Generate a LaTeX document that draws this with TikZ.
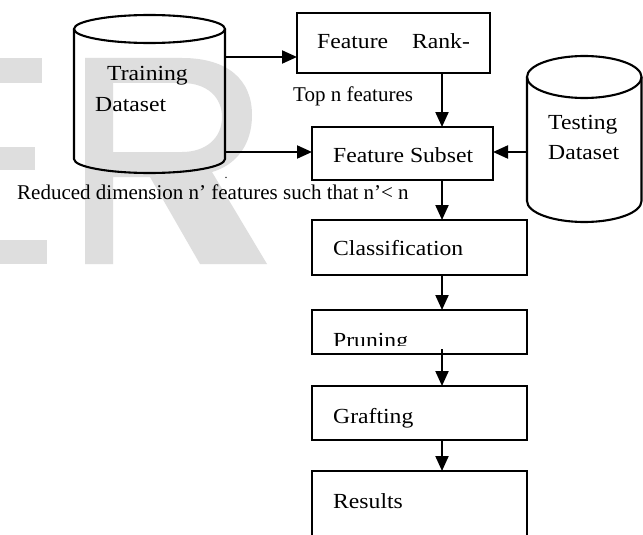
\documentclass[tikz,border=0pt]{standalone}
\usepackage{fontspec}
\setmainfont{Liberation Serif}
\newfontfamily\boxfont[FakeStretch=1.1]{Liberation Serif}
\usetikzlibrary{arrows.meta,calc}
\begin{document}
\begin{tikzpicture}[x=1pt,y=-1pt,
  wm/.style={fill=black!13,draw=none},
  stepbox/.style={draw,line width=2.1pt,inner sep=0pt,outer sep=0pt,anchor=north west},
  cyl/.style={draw,line width=2.1pt},
  arr/.style={line width=2.1pt,-{Triangle[length=15pt,width=13pt]}},
  lbl/.style={anchor=base west,inner sep=0pt,font=\boxfont\fontsize{21.5}{26}\selectfont},
  note/.style={anchor=base west,inner sep=0pt,font=\fontsize{21}{25}\selectfont}]
\useasboundingbox (0,0) rectangle (643,535);
\clip (0,0) rectangle (643,535);
\fill[white] (0,0) rectangle (643,535);
% watermark
\fill[wm] (0,58) rectangle (42,83);
\fill[wm] (0,147) rectangle (35,170);
\fill[wm] (0,240) rectangle (47,264);
\fill[wm,even odd rule] (85,264) -- (85,58) -- (182,58)
  .. controls (228,58) and (252,80) .. (252,115)
  .. controls (252,145) and (236,165) .. (212,172)
  -- (267,264) -- (200,264) -- (150,177) -- (113,177) -- (113,264) -- cycle
  (113,83) -- (182,83) .. controls (208,83) and (222,98) .. (222,117)
  .. controls (222,138) and (206,152) .. (182,152) -- (113,152) -- cycle;
% cylinders
\draw[cyl] (74,29) -- (74,159) arc[start angle=180,end angle=360,x radius=75.5pt,y radius=14pt] -- (225,29);
\draw[cyl] (149.5,29) ellipse [x radius=75.5pt,y radius=14pt];
\node[draw=none,minimum width=151pt,minimum height=130pt,inner sep=0pt,outer sep=0pt] (train) at (149.5,94) {};
\draw[cyl] (527,77) -- (527,201) arc[start angle=180,end angle=360,x radius=57.25pt,y radius=21pt] -- (641.5,77);
\draw[cyl] (584.25,77) ellipse [x radius=57.25pt,y radius=21pt];
\node[draw=none,minimum width=114.5pt,minimum height=124pt,inner sep=0pt,outer sep=0pt] (test) at (584.25,139) {};
% boxes
\node[stepbox,minimum width=193pt,minimum height=60pt] (rank) at (297,13) {};
\node[stepbox,minimum width=181pt,minimum height=53pt] (subset) at (312,127) {};
\node[stepbox,minimum width=215pt,minimum height=55pt] (classif) at (312,220) {};
\node[stepbox,minimum width=215pt,minimum height=44pt] (prune) at (312,310) {};
\node[stepbox,minimum width=215pt,minimum height=54pt] (graft) at (312,386) {};
\node[stepbox,minimum width=215pt,minimum height=110pt] (results) at (312,471) {};
% texts
\node[lbl] (ttrain) at (107,81) {Training};
\node[lbl] (tdata1) at (95,111) {Dataset};
\node[lbl] (ttest) at (548,129) {Testing};
\node[lbl] (tdata2) at (548,159) {Dataset};
\node[lbl] (trank) at (317,49) {Feature\hspace{24pt}Rank-};
\node[lbl] (tsubset) at (333,162) {Feature Subset};
\node[lbl] (tclass) at (333,255) {Classification};
\begin{scope}
  \clip (312,310) rectangle (527,345);
  \node[lbl] (tprune) at (333,347) {Pruning};
\end{scope}
\node[lbl] (tgraft) at (333,423) {Grafting};
\node[lbl] (tres) at (333,508) {Results};
\node[note] (ttop) at (293,102) {Top n features};
\node[note] (tred) at (17,199) {Reduced dimension n’ features such that n’< n};
\node[anchor=base,inner sep=0pt,font=\fontsize{12}{14}\selectfont] (dot) at (226,178) {.};
% connectors
\coordinate (ax) at (442,0);
\coordinate (y1) at (0,57);
\coordinate (y2) at (0,152);
\draw[arr] (train.east |- y1) -- (rank.west |- y1);
\draw[arr] (train.east |- y2) -- (subset.west |- y2);
\draw[arr] (test.west |- y2) -- (subset.east |- y2);
\draw[arr] (rank.south -| ax) -- (subset.north -| ax);
\draw[arr] (subset.south -| ax) -- (classif.north -| ax);
\draw[arr] (classif.south -| ax) -- (prune.north -| ax);
\draw[arr] ($(prune.south -| ax)+(0,-5)$) -- (graft.north -| ax);
\draw[arr] (graft.south -| ax) -- (results.north -| ax);
\end{tikzpicture}
\end{document}
